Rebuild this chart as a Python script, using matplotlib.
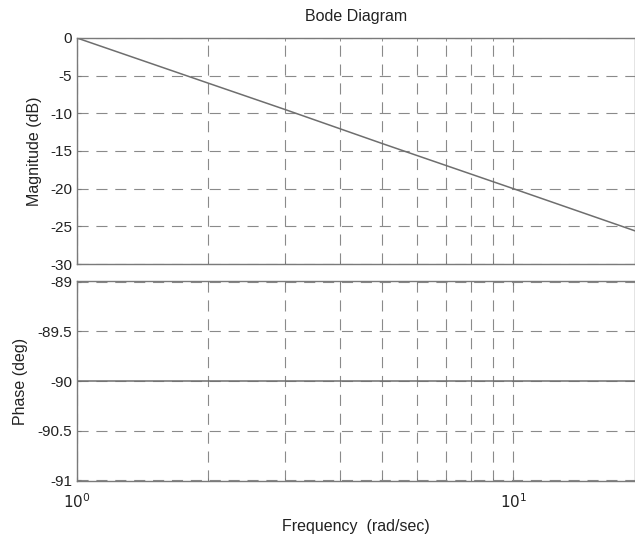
import matplotlib
matplotlib.use("Agg")
import matplotlib.pyplot as plt
from matplotlib.ticker import FixedLocator, NullFormatter

plt.rcParams['font.family'] = ['Liberation Sans', 'DejaVu Sans']

# data
freq = [1, 2, 3, 5, 10, 19]
mag_db = [0, -6.0, -9.5, -14.0, -20.0, -25.6]
phase_freq = [1, 19]
phase_deg = [-90, -90]

mag_ticks = [0, -5, -10, -15, -20, -25, -30]
phase_ticks = [-89, -89.5, -90, -90.5, -91]
phase_labels = ['-89', '-89.5', '-90', '-90.5', '-91']

W, H = 635, 536
fig = plt.figure(figsize=(W/100, H/100), dpi=100)
left = 77 / W
right = 1.0
ax1 = fig.add_axes([left, 1 - 264/H, right - left, (264 - 38)/H])
ax2 = fig.add_axes([left, 1 - 481/H, right - left, (481 - 281)/H])

lc = '#6e6e6e'
gc = '#8a8a8a'
tc = '#222222'

for ax in (ax1, ax2):
    ax.set_xscale('log')
    ax.set_xlim(1, 19)
    ax.xaxis.set_minor_locator(FixedLocator([2, 3, 4, 5, 6, 7, 8, 9]))
    ax.xaxis.set_minor_formatter(NullFormatter())
    ax.grid(True, which='both', axis='x', linestyle=(0, (10, 7)), color=gc, linewidth=0.8)
    ax.grid(True, which='major', axis='y', linestyle=(0, (10, 7)), color=gc, linewidth=0.8)
    for s in ax.spines.values():
        s.set_color('#7a7a7a')
        s.set_linewidth(1.0)
    ax.tick_params(which='both', direction='in', colors='#7a7a7a', labelcolor=tc,
                   labelsize=11, top=True, right=False, length=3)
    ax.tick_params(which='minor', length=2)

ax1.plot(freq, mag_db, color=lc, linewidth=1.1)
ax1.set_ylim(-30, 0)
ax1.set_yticks(mag_ticks)
ax1.set_yticklabels([str(t) for t in mag_ticks])
ax1.tick_params(axis='x', labelbottom=False)
ax1.set_ylabel('Magnitude (dB)', fontsize=11.5, color=tc, labelpad=6)
ax1.set_title('Bode Diagram', fontsize=11.5, color=tc, pad=12)

ax2.plot(phase_freq, phase_deg, color=lc, linewidth=1.1)
ax2.set_ylim(-91.01, -88.99)
ax2.set_yticks(phase_ticks)
ax2.set_yticklabels(phase_labels)
ax2.set_xticks([1, 10])
ax2.set_xticklabels([r'$10^0$', r'$10^1$'])
ax2.tick_params(axis='x', pad=8)
ax2.set_ylabel('Phase (deg)', fontsize=11.5, color=tc, labelpad=7)
ax2.set_xlabel('Frequency  (rad/sec)', fontsize=11.5, color=tc, labelpad=6)

fig.savefig('out.png', dpi=100, facecolor='white')
